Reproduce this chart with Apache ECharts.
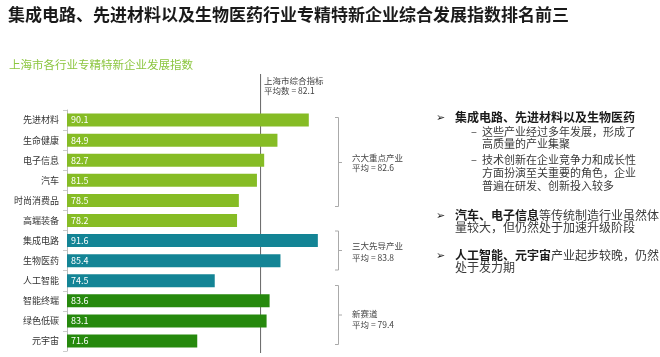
<!DOCTYPE html>
<html><head><meta charset="utf-8">
<script src="https://cdn.jsdelivr.net/npm/echarts@6/dist/echarts.min.js"></script>
<style>html,body{margin:0;padding:0;background:#fff}#c{width:660px;height:357px}</style>
</head><body><div id="c"></div>
<script>
const categories = ['先进材料','生命健康','电子信息','汽车','时尚消费品','高端装备','集成电路','生物医药','人工智能','智能终端','绿色低碳','元宇宙'];
const values = [90.1, 84.9, 82.7, 81.5, 78.5, 78.2, 91.6, 85.4, 74.5, 83.6, 83.1, 71.6];
const groupIndex = [0,0,0,0,0,0,1,1,1,2,2,2];
const groupNames = ['六大重点产业','三大先导产业','新赛道'];
const groupAvgs = [82.6, 83.8, 79.4];
const cityAvg = 82.1;
const groupColors = ['#86bc25','#138495','#26890d'];
const FONT = '"Noto Sans CJK SC", "Noto Sans", sans-serif';

const chart = echarts.init(document.getElementById('c'), null, {renderer:'canvas'});

function txt(x, y, text, size, color, weight) {
  return {type:'text', style:{x:x, y:y, text:text, fontSize:size, fontFamily:FONT, fontWeight:weight||'normal', fill:color, verticalAlign:'middle', align:'left'}};
}
function rich(x, y, boldPart, normPart, size) {
  return {type:'text', style:{x:x, y:y, text:'{b|'+boldPart+'}{n|'+normPart+'}', verticalAlign:'middle', align:'left',
    rich:{b:{fontSize:size, fontFamily:FONT, fontWeight:'bold', fill:'#1a1a1a'}, n:{fontSize:size, fontFamily:FONT, fill:'#3a3a3a'}}}};
}
function line(x1,y1,x2,y2,color){
  return {type:'line', shape:{x1:x1,y1:y1,x2:x2,y2:y2}, style:{stroke:color, lineWidth:1}};
}
function bracket(top, bottom, mid){
  const c = '#aaa';
  return [line(335,top,338.5,top,c), line(338.5,top,338.5,bottom,c), line(335,bottom,338.5,bottom,c), line(338.5,mid,342,mid,c)];
}

const option = {
  animation:false,
  grid:{left:67, top:110, width:301.5, height:241, containLabel:false},
  xAxis:{type:'value', min:50, max:100, show:false},
  yAxis:{type:'category', data:categories, inverse:true,
    axisLine:{show:true, lineStyle:{color:'#bbb'}},
    axisTick:{show:true, inside:false, length:4, lineStyle:{color:'#ccc'}},
    axisLabel:{fontSize:9, color:'#333', margin:8, fontFamily:FONT}},
  series:[{type:'bar', barWidth:13,
    data: values.map((v,i)=>({value:v, itemStyle:{color:groupColors[groupIndex[i]]}})),
    label:{show:true, position:'insideLeft', distance:4, color:'#fff', fontSize:9, fontFamily:FONT}
  }]
};
chart.setOption(option);

const ax = chart.convertToPixel({xAxisIndex:0}, cityAvg);
const g = [];
g.push(txt(8, 15, '集成电路、先进材料以及生物医药行业专精特新企业综合发展指数排名前三', 17, '#1a1a1a', 'bold'));
g.push(txt(9, 65, '上海市各行业专精特新企业发展指数', 11.5, '#8cc63f'));
g.push(line(ax, 74, ax, 353, '#666'));
g.push(txt(ax+3.5, 81, '上海市综合指标', 8.5, '#444'));
g.push(txt(ax+3.5, 90.5, '平均数 = ' + cityAvg, 8.5, '#444'));
// group brackets
const br = [[117.5,206.5,162.5,158,168],[231,270,250.5,246,257.5],[285.5,344.5,315,314,324.5]];
br.forEach((b,i)=>{
  bracket(b[0],b[1],b[2]).forEach(e=>g.push(e));
  g.push(txt(352, b[3], groupNames[i], 8.5, '#444'));
  g.push(txt(352, b[4], '平均 = ' + groupAvgs[i], 8.5, '#444'));
});
// right-side notes
g.push(txt(436, 117, '➢', 11, '#1a1a1a'));
g.push(txt(455, 117, '集成电路、先进材料以及生物医药', 12, '#1a1a1a', 'bold'));
g.push(txt(471, 131.5, '–', 11, '#3a3a3a'));
g.push(txt(482, 131.5, '这些产业经过多年发展，形成了', 11, '#3a3a3a'));
g.push(txt(482, 143.5, '高质量的产业集聚', 11, '#3a3a3a'));
g.push(txt(471, 160, '–', 11, '#3a3a3a'));
g.push(txt(482, 160, '技术创新在企业竞争力和成长性', 11, '#3a3a3a'));
g.push(txt(482, 173, '方面扮演至关重要的角色，企业', 11, '#3a3a3a'));
g.push(txt(482, 186, '普遍在研发、创新投入较多', 11, '#3a3a3a'));
g.push(txt(436, 215, '➢', 11, '#1a1a1a'));
g.push(rich(455, 215, '汽车、电子信息', '等传统制造行业虽然体', 12));
g.push(txt(455, 227.5, '量较大，但仍然处于加速升级阶段', 12, '#3a3a3a'));
g.push(txt(436, 255, '➢', 11, '#1a1a1a'));
g.push(rich(455, 255, '人工智能、元宇宙', '产业起步较晚，仍然', 12));
g.push(txt(455, 267, '处于发力期', 12, '#3a3a3a'));
chart.setOption({graphic:{elements:g}});
</script></body></html>
